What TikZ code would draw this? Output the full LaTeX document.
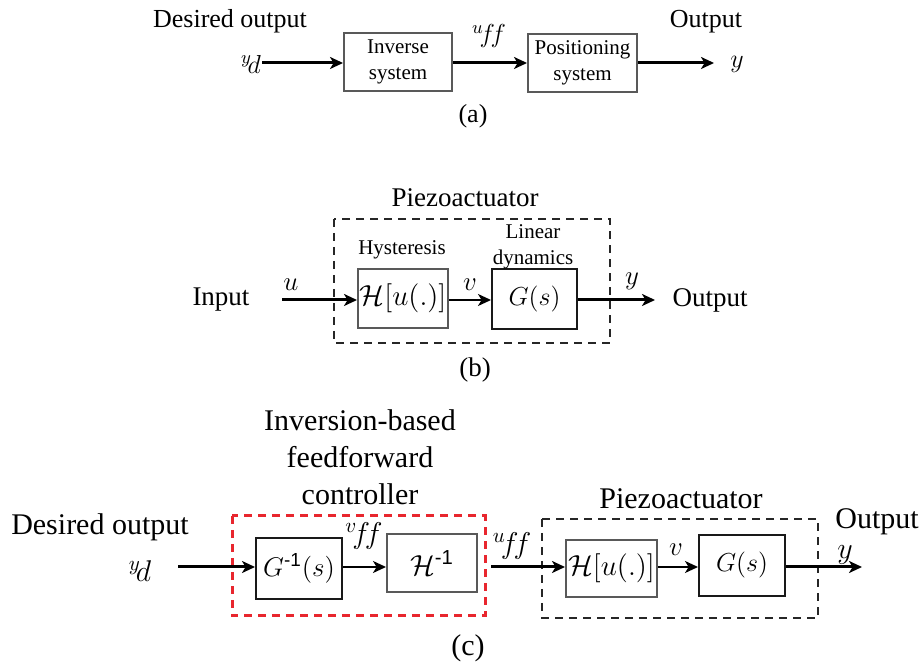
\RequirePackage{fix-cm}
\documentclass[tikz,border=0pt]{standalone}
\usepackage{fontspec}
\setmainfont{Liberation Serif}
\setsansfont{Liberation Sans}
\usepackage{amsmath}
\usetikzlibrary{arrows.meta,calc}
\definecolor{ctrlred}{RGB}{232,38,46}
\tikzset{
	blk/.style={draw=black!65, line width=1pt, inner sep=0pt, align=center, font=\fontsize{10.5}{13}\selectfont},
	blkd/.style={blk, draw=black!90},
	sig/.style={line width=1.5pt, -{Stealth[length=6.5pt,width=6pt,inset=1.8pt]}},
	sigthin/.style={sig, line width=0.9pt},
	grp/.style={draw=black!85, line width=1pt, dash pattern=on 4pt off 3pt},
	ctrlgrp/.style={draw=ctrlred, line width=1.5pt, dash pattern=on 4pt off 3pt},
	fa/.style={font=\fontsize{13}{15}\selectfont},
	fb/.style={font=\fontsize{13.5}{16}\selectfont},
	fc/.style={font=\fontsize{15}{18.5}\selectfont},
}

\begin{document}
\begin{tikzpicture}[x=0.5pt,y=-0.5pt]%[scale=0.5]
		
		\tikzstyle{every node}=[inner sep=0pt]
		\useasboundingbox (0,0) rectangle (921,667);
		
		% (a)
		\coordinate (arow) at (0,63);
		\node[blk, minimum width=54pt, minimum height=29pt] (inv) at (398,62) {Inverse\\system};
		\node[blk, minimum width=54.5pt, minimum height=29pt] (pos) at (582.5,63) {Positioning\\system};
		\coordinate (ydin) at (262,63);
		\coordinate (yout) at (714,63);
		\draw[sig] (ydin) -- (inv.west |- arow);
		\draw[sig] (inv.east |- arow) -- (pos.west |- arow);
		\draw[sig] (pos.east |- arow) -- (yout);
		
		\node[fa] (ades) at (230,21) {Desired output};
		\node[fa] (ayd) at (251,64) {${}^{y}\!d$};
		\node[fa] (auff) at (489,36) {${}^{u}\!f\!f$};
		\node[fa] (aout) at (706,22) {Output};
		\node[fa] (ay) at (737,64) {$y$};
		\node[fa] (acap) at (473,116) {(a)};
		
		% (b)
		\coordinate (brow) at (0,300);
		\draw[grp] (334,219) rectangle (610,343);
		\node[blk, minimum width=45pt, minimum height=29.5pt, font=\fontsize{14.5}{16}\selectfont] (hys) at (403,298.5) {$\mathcal{H}[u(.)]$};
		\node[blkd, minimum width=42.5pt, minimum height=30pt, font=\fontsize{13}{14}\selectfont] (lin) at (534.5,299) {$G(s)$};
		\coordinate (bin) at (282,300);
		\coordinate (bout) at (655,300);
		\draw[sig] (bin) -- (hys.west |- brow);
		\draw[sigthin] (hys.east |- brow) -- (lin.west |- brow);
		\draw[sig] (lin.east |- brow) -- (bout);
		
		\node[fb] (bpiezo) at (465,198) {Piezoactuator};
		\node[blk, draw=none] (bhys) at (402,250) {Hysteresis};
		\node[blk, draw=none] (blin) at (533,247) {Linear\\dynamics};
		\node[fb] (binput) at (221,300) {Input};
		\node[fb] (bu) at (291,285) {$u$};
		\node[fb] (bv) at (470,285) {$v$};
		\node[fb] (by) at (632,281) {$y$};
		\node[fb] (boutput) at (710,300) {Output};
		\node[fb] (bcap) at (475,370) {(b)};
		
		% (c)
		\coordinate (crow) at (0,567);
		\draw[ctrlgrp] (232,516) rectangle (485,616);
		\draw[grp] (542,519) rectangle (818,618);
		\node[blkd, minimum width=43pt, minimum height=30.5pt, font=\fontsize{13.5}{14}\selectfont] (ginv) at (299,568.5) {$G^{\textsf{-1}}(s)$};
		\node[blk, minimum width=45pt, minimum height=29pt, font=\fontsize{14.5}{16}\selectfont] (hinv) at (432,563) {$\mathcal{H}^{\textsf{-1}}$};
		\node[blk, minimum width=45.5pt, minimum height=28.5pt, font=\fontsize{14.5}{16}\selectfont] (hc) at (611.5,568.5) {$\mathcal{H}[u(.)]$};
		\node[blkd, minimum width=43pt, minimum height=30.5pt, font=\fontsize{13}{14}\selectfont] (gc) at (742,565.5) {$G(s)$};
		\coordinate (cin) at (178,567);
		\coordinate (cout) at (862,567);
		\draw[sig] (cin) -- (ginv.west |- crow);
		\draw[sigthin] (ginv.east |- crow) -- (hinv.west |- crow);
		\draw[sig] (hinv.east |- crow) ++(13,0) coordinate (uffst) -- (hc.west |- crow);
		\draw[sigthin] (hc.east |- crow) -- (gc.west |- crow);
		\draw[sig] (gc.east |- crow) -- (cout);
		
		\node[fc, align=center] (cctrl) at (360,457) {Inversion-based\\feedforward\\controller};
		\node[fc] (cdes) at (100,527) {Desired output};
		\node[fc] (cyd) at (140,571) {${}^{y}\!d$};
		\node[fc] (cvff) at (364,536) {${}^{v}\!f\!f$};
		\node[fc] (cuff) at (512,546) {${}^{u}\!f\!f$};
		\node[fc] (cpiezo) at (681,499) {Piezoactuator};
		\node[fb] (cv) at (676,550) {$v$};
		\node[fc] (cy) at (845,555) {$y$};
		\node[fc] (coutput) at (877,522) {Output};
		\node[fc] (ccap) at (468,648) {(c)};
		
\end{tikzpicture}
\end{document}
